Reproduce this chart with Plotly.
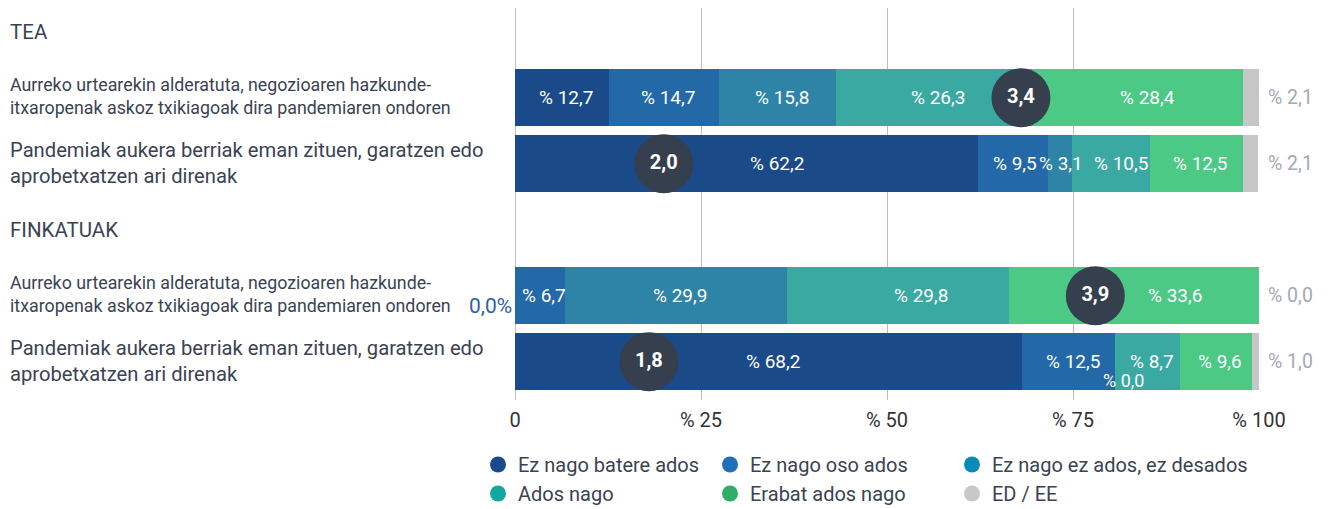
import plotly.graph_objects as go

# Response categories (stack order, left to right)
categories = ["Ez nago batere ados", "Ez nago oso ados", "Ez nago ez ados, ez desados",
              "Ados nago", "Erabat ados nago", "ED / EE"]
groups = ["TEA", "FINKATUAK"]
statement_growth = ("Aurreko urtearekin alderatuta, negozioaren hazkunde-<br>"
                    "itxaropenak askoz txikiagoak dira pandemiaren ondoren")
statement_opportunity = ("Pandemiak aukera berriak eman zituen, garatzen edo<br>"
                         "aprobetxatzen ari direnak")

# Percentages per row, in category order
tea_growth = [12.7, 14.7, 15.8, 26.3, 28.4, 2.1]
tea_opportunity = [62.2, 9.5, 3.1, 10.5, 12.5, 2.1]
fink_growth = [0.0, 6.7, 29.9, 29.8, 33.6, 0.0]
fink_opportunity = [68.2, 12.5, 0.0, 8.7, 9.6, 1.0]

# Mean score per row and the top of the scale it is measured on
mean_scores = [3.4, 2.0, 3.9, 1.8]
score_scale_max = [5, 10, 5, 10]

x_ticks = [0, 25, 50, 75, 100]
x_tick_labels = ["0", "% 25", "% 50", "% 75", "% 100"]

rows = [tea_growth, tea_opportunity, fink_growth, fink_opportunity]
row_y = [1, 2, 4, 5]          # header rows sit at 0 and 3
header_y = [0, 3]

bar_colors = ["#1b4a89", "#2369a7", "#2e84a7", "#3aa9a2", "#4cc984", "#c6c6c6"]
legend_colors = ["#1a4a8c", "#1f6fba", "#0a8ab8", "#13a89e", "#2fae68", "#c8c8c8"]
text_dark = "#3a4352"
font_family = "Roboto, 'Open Sans', sans-serif"


def pct(v):
    return "% " + f"{v:.1f}".replace(".", ",")


fig = go.Figure()

for j, cat in enumerate(categories):
    fig.add_trace(go.Bar(
        x=[r[j] for r in rows], y=row_y, orientation="h",
        width=0.86, marker=dict(color=bar_colors[j], line=dict(width=0)),
        name=cat, showlegend=False, hoverinfo="skip",
    ))

# legend entries drawn as round markers; each sits in its own legend box
legend_ids = ["legend", "legend2", "legend3", "legend4", "legend5", "legend6"]
for j, cat in enumerate(categories):
    fig.add_trace(go.Scatter(
        x=[None], y=[None], mode="markers", name=cat, legend=legend_ids[j],
        marker=dict(symbol="circle", size=19, color=legend_colors[j]),
    ))

# mean score bubbles
fig.add_trace(go.Scatter(
    x=[s / m * 100 for s, m in zip(mean_scores, score_scale_max)], y=row_y,
    mode="markers+text",
    marker=dict(size=59, color="#363f4e", line=dict(width=0)),
    text=[f"{s:.1f}".replace(".", ",") for s in mean_scores],
    textposition="middle center",
    textfont=dict(family=font_family, size=20, color="white", weight="bold"),
    showlegend=False, hoverinfo="skip",
))

# extra horizontal nudges for labels that would sit under a bubble or crowd
label_nudge = {(1, 0): 27, (1, 1): -2, (1, 2): -3, (1, 3): 6,
               (2, 3): 19, (2, 4): 37, (0, 4): 6}
value_size = 19

annotations = []
for i, (vals, y) in enumerate(zip(rows, row_y)):
    start = 0.0
    for j, v in enumerate(vals):
        mid = start + v / 2
        if j == 5:
            annotations.append(dict(x=100, y=y, text=pct(v), showarrow=False, xshift=31,
                                    font=dict(size=19.5, color="#a3aab5")))
        elif v == 0 and j == 0:
            annotations.append(dict(x=0, y=y, text=f"{v:.1f}".replace(".", ",") + "%",
                                    showarrow=False, xanchor="right", xshift=-1, yshift=-10,
                                    font=dict(size=21, color="#2f5ea8")))
        elif v == 0:
            annotations.append(dict(x=mid, y=y, text=pct(v), showarrow=False,
                                    xshift=8, yshift=-19,
                                    font=dict(size=18, color="white")))
        else:
            annotations.append(dict(x=mid, y=y, text=pct(v), showarrow=False,
                                    xshift=4 + label_nudge.get((i, j), 0),
                                    font=dict(size=value_size, color="white")))
        start += v

label_x = (8 - 515) / 744
for g, y in zip(groups, header_y):
    annotations.append(dict(x=label_x, y=y, xref="paper", yref="y", text=g, xanchor="left",
                            showarrow=False, font=dict(size=20.5, color=text_dark)))
for y in (1, 4):
    annotations.append(dict(x=label_x, y=y, xref="paper", yref="y", text=statement_growth,
                            xanchor="left", align="left", showarrow=False, yshift=2,
                            font=dict(size=17.8, color=text_dark)))
for y in (2, 5):
    annotations.append(dict(x=label_x, y=y, xref="paper", yref="y", text=statement_opportunity,
                            xanchor="left", align="left", showarrow=False, yshift=1,
                            font=dict(size=20.2, color=text_dark)))

# legend grid: pixel positions of each entry box (left edge, top edge)
legend_cols = [478, 710, 952]
legend_rows = [445, 474]
plot_w, plot_h, plot_left, plot_bottom = 744, 392, 515, 400
legend_layout = {}
for j, lid in enumerate(legend_ids):
    lx = legend_cols[j % 3]
    ly = legend_rows[j // 3]
    legend_layout[lid] = dict(
        x=(lx - plot_left) / plot_w, y=-(ly - plot_bottom) / plot_h,
        xanchor="left", yanchor="top", orientation="h",
        font=dict(size=20, color=text_dark), itemsizing="trace",
        bgcolor="rgba(0,0,0,0)",
    )

fig.update_layout(
    width=1329, height=509,
    margin=dict(l=515, r=70, t=8, b=109, autoexpand=False),
    barmode="stack", bargap=0,
    plot_bgcolor="white", paper_bgcolor="white",
    font=dict(family=font_family, size=17, color=text_dark),
    xaxis=dict(range=[0, 100], tickvals=x_ticks, ticktext=x_tick_labels,
               showgrid=True, gridcolor="#bdbdbd", gridwidth=1,
               zeroline=True, zerolinecolor="#bdbdbd", zerolinewidth=1,
               showline=False, ticks="", tickfont=dict(size=20, color="#333333"),
               ticklabelstandoff=6, fixedrange=True),
    yaxis=dict(range=[5.58, -0.36], showticklabels=False, showgrid=False,
               zeroline=False, showline=False, fixedrange=True),
    annotations=annotations,
    showlegend=True,
    **legend_layout,
)

fig.write_html("out.html")
